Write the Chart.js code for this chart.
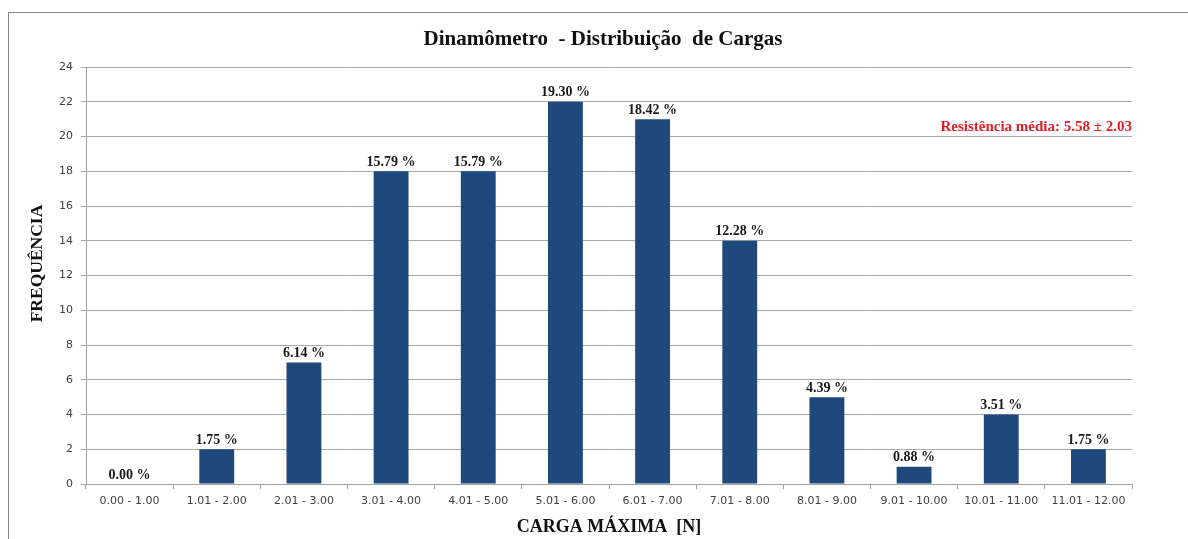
<!DOCTYPE html>
<html><head><meta charset="utf-8">
<script src="https://cdn.jsdelivr.net/npm/chart.js@4"></script>
<style>
html,body{margin:0;padding:0;background:#fff;overflow:hidden;}
#frame{position:absolute;left:8px;top:12px;width:3000px;height:3000px;border-left:1.5px solid #8a8a8a;border-top:1.5px solid #8a8a8a;}
#wrap{position:absolute;left:0;top:0;width:1188px;height:539px;}
</style></head>
<body>
<div id="frame"></div>
<div id="wrap"><canvas id="c" width="1188" height="539"></canvas></div>
<script>
const categories = ["0.00 - 1.00","1.01 - 2.00","2.01 - 3.00","3.01 - 4.00","4.01 - 5.00","5.01 - 6.00","6.01 - 7.00","7.01 - 8.00","8.01 - 9.00","9.01 - 10.00","10.01 - 11.00","11.01 - 12.00"];
const frequencies = [0,2,7,18,18,22,21,14,5,1,4,2];
const percentLabels = ["0.00 %","1.75 %","6.14 %","15.79 %","15.79 %","19.30 %","18.42 %","12.28 %","4.39 %","0.88 %","3.51 %","1.75 %"];
const titleText = "Dinamômetro  - Distribuição  de Cargas";
const xTitle = "CARGA MÁXIMA  [N]";
const yTitle = "FREQUÊNCIA";
const noteText = "Resistência média: 5.58 ± 2.03";

const labelPlugin = {
  id: 'barLabels',
  afterDraw(chart) {
    const ctx = chart.ctx;
    const meta = chart.getDatasetMeta(0);
    const ca = chart.chartArea;
    const ys = chart.scales.y;
    ctx.save();
    // data labels
    ctx.font = 'bold 14px "Liberation Serif", serif';
    ctx.fillStyle = '#1a1a1a';
    ctx.textAlign = 'center';
    ctx.textBaseline = 'bottom';
    meta.data.forEach((bar, i) => {
      ctx.fillText(percentLabels[i], bar.x, bar.y - 2);
    });
    // note
    ctx.font = 'bold 15px "Liberation Serif", serif';
    ctx.fillStyle = '#e0202a';
    ctx.textAlign = 'right';
    ctx.textBaseline = 'middle';
    ctx.fillText(noteText, ca.right, ys.getPixelForValue(20.55));
    // main title
    ctx.font = 'bold 21px "Liberation Serif", serif';
    ctx.fillStyle = '#111';
    ctx.textAlign = 'center';
    ctx.textBaseline = 'middle';
    ctx.fillText(titleText, ca.left + (ca.right - ca.left) / 2 - 6, 40);
    // y title
    ctx.translate(37, (ca.top + ca.bottom) / 2 - 12);
    ctx.rotate(-Math.PI / 2);
    ctx.font = 'bold 17.5px "Liberation Serif", serif';
    ctx.fillText(yTitle, 0, 0);
    ctx.restore();
  }
};

new Chart(document.getElementById('c'), {
  type: 'bar',
  data: {
    labels: categories,
    datasets: [{
      data: frequencies,
      backgroundColor: '#1f497d',
      borderWidth: 0,
      barPercentage: 0.4,
      categoryPercentage: 1.0
    }]
  },
  options: {
    responsive: false,
    animation: false,
    layout: { padding: { left: 0, right: 56, top: 67, bottom: 1 } },
    plugins: {
      legend: { display: false },
      tooltip: { enabled: false },
      title: { display: false }
    },
    scales: {
      x: {
        afterFit(scale) { scale.height = 54; },
        grid: { display: true, drawOnChartArea: false, drawTicks: true, tickLength: 5, color: '#a0a0a0', offset: true },
        border: { display: true, color: '#a0a0a0' },
        ticks: { color: '#404040', font: { family: '"DejaVu Sans", sans-serif', size: 11 }, maxRotation: 0, autoSkip: false, padding: 6 },
        title: { display: true, text: xTitle, color: '#111', font: { family: '"Liberation Serif", serif', size: 18, weight: 'bold' }, padding: { top: 4, bottom: 0 } }
      },
      y: {
        min: 0, max: 24,
        afterFit(scale) { scale.width = 86; },
        grid: { color: '#a8a8a8', tickLength: 5, drawTicks: true },
        border: { display: true, color: '#a0a0a0' },
        ticks: { stepSize: 2, color: '#404040', font: { family: '"DejaVu Sans", sans-serif', size: 11 }, padding: 8 }
      }
    }
  },
  plugins: [labelPlugin]
});
</script>
</body></html>
